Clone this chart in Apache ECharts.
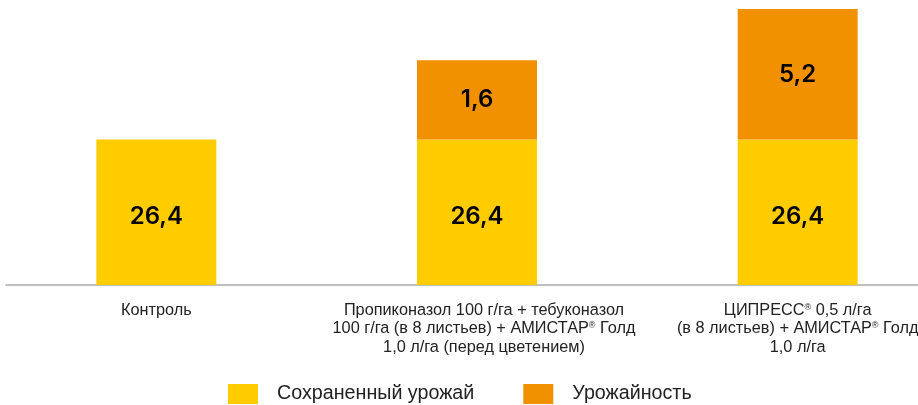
<!DOCTYPE html>
<html>
<head>
<meta charset="utf-8">
<script src="https://cdn.jsdelivr.net/npm/echarts@6/dist/echarts.min.js"></script>
<style>
html,body{margin:0;padding:0;background:#fff;overflow:hidden;width:918px;height:405px;}
#chart{position:absolute;left:-4px;top:0;width:962px;height:405px;}
</style>
</head>
<body>
<div id="chart"></div>
<script>
// Categories (x-axis labels)
const categories = [
  'Контроль',
  'Пропиконазол 100 г/га + тебуконазол\n100 г/га (в 8 листьев) + АМИСТАР{sup|®} Голд\n1,0 л/га (перед цветением)',
  'ЦИПРЕСС{sup|®} 0,5 л/га\n(в 8 листьев) + АМИСТАР{sup|®} Голд\n1,0 л/га'
];
const seriesNames = ['Сохраненный урожай', 'Урожайность'];
// Bar heights as drawn in the picture (axis units)
const savedHeights = [26.4, 26.4, 26.4];
const yieldHeights = [0, 14.4, 23.7];
// Value labels printed on the bars
const savedLabels = ['26,4', '26,4', '26,4'];
const yieldLabels = ['', '1,6', '5,2'];

const FONT = '"Liberation Sans", Arial, Helvetica, sans-serif';
const NUMFONT = 'Inter, "Liberation Sans", Arial, sans-serif';

const chart = echarts.init(document.getElementById('chart'), null, {renderer: 'canvas'});
chart.setOption({
  animation: false,
  backgroundColor: '#ffffff',
  textStyle: {fontFamily: FONT},
  grid: [
    {left: 0, right: 0, top: 9, bottom: 120, containLabel: false},
    {left: 10, right: 40, top: 9, bottom: 120, containLabel: false}
  ],
  legend: {
    data: seriesNames,
    top: 384,
    left: 232,
    padding: 0,
    itemWidth: 30,
    itemHeight: 20,
    itemGap: 49,
    icon: 'rect',
    textStyle: {fontFamily: FONT, fontSize: 19.7, color: '#222', padding: [0, 0, 0, 14]}
  },
  xAxis: [
    {
      type: 'category',
      gridIndex: 0,
      data: categories.map((c, i) => i === 1 ? {value: c, textStyle: {padding: [0, 0, 0, 14]}} : c),
      axisLine: {show: false},
      axisTick: {show: false},
      axisLabel: {
        interval: 0,
        margin: 16,
        fontFamily: FONT,
        fontSize: 16.3,
        lineHeight: 18.5,
        color: '#222',
        rich: {sup: {fontSize: 9, fontFamily: FONT, color: '#222', padding: [0, 0, 6, 0]}}
      }
    },
    {
      type: 'category',
      gridIndex: 1,
      data: [''],
      axisLine: {show: true, lineStyle: {color: '#aaaaaa', width: 1.5}},
      axisTick: {show: false},
      axisLabel: {show: false}
    }
  ],
  yAxis: [
    {type: 'value', gridIndex: 0, min: 0, max: 50.1, show: false},
    {type: 'value', gridIndex: 1, min: 0, max: 1, show: false}
  ],
  series: [
    {
      name: seriesNames[0],
      type: 'bar',
      stack: 'total',
      barWidth: 120,
      data: savedHeights,
      itemStyle: {color: '#FFCC00'},
      label: {
        show: true,
        position: 'inside',
        offset: [0, 4],
        fontFamily: NUMFONT,
        fontWeight: 600,
        fontSize: 24,
        color: '#000',
        formatter: p => savedLabels[p.dataIndex]
      }
    },
    {
      name: seriesNames[1],
      type: 'bar',
      stack: 'total',
      barWidth: 120,
      data: yieldHeights,
      itemStyle: {color: '#F29100'},
      label: {
        show: true,
        position: 'inside',
        fontFamily: NUMFONT,
        fontWeight: 600,
        fontSize: 24,
        color: '#000',
        formatter: p => yieldLabels[p.dataIndex]
      }
    }
  ]
});
</script>
</body>
</html>
